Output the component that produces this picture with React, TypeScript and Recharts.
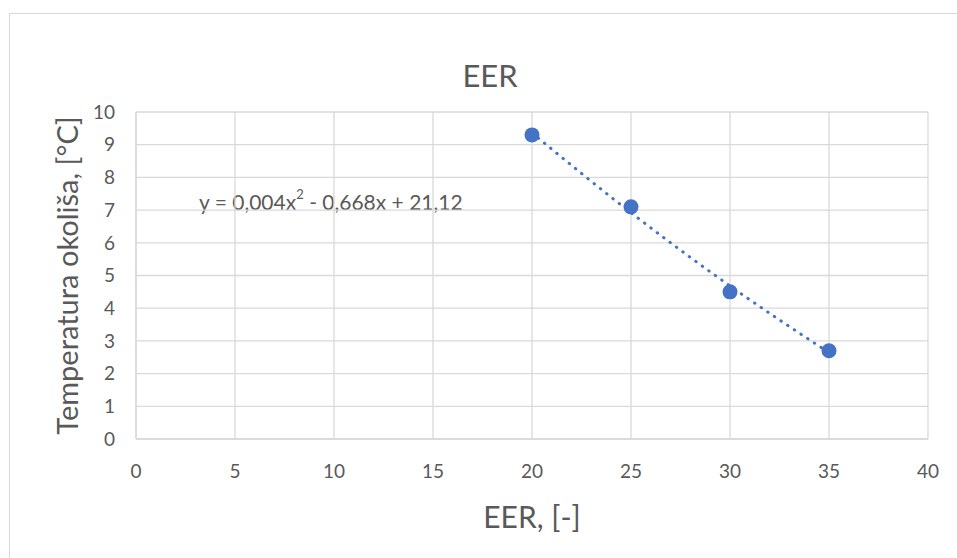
import React from 'react';
import { ComposedChart, Scatter, Line, XAxis, YAxis, CartesianGrid } from 'recharts';

const eer = [20, 25, 30, 35];
const temperature = [9.3, 7.1, 4.5, 2.7];
const trendline = [9.36, 6.92, 4.68, 2.64];
const xTicks = [0, 5, 10, 15, 20, 25, 30, 35, 40];
const yTicks = [0, 1, 2, 3, 4, 5, 6, 7, 8, 9, 10];

const chartTitle = 'EER';
const xTitle = 'EER, [-]';
const yTitle = 'Temperatura okoliša, [°C]';

const FONT = 'Lato, "Open Sans", sans-serif';
const BLUE = '#4472C4';
const GRID = '#d9d9d9';
const TEXT = '#595959';

const data = eer.map((x, i) => ({ x, temp: temperature[i], trend: trendline[i] }));

const App: React.FC = () => {
  return (
    <div style={{ position: 'absolute', left: 0, top: 0, width: 957, height: 558, background: '#fff', fontFamily: FONT, overflow: 'hidden' }}>
      <div style={{ position: 'absolute', left: 9, top: 13, width: 980, height: 580, border: '1px solid #d9d9d9' }} />
      <div style={{ position: 'absolute', left: 390, width: 200, top: 55, textAlign: 'center', fontSize: 31, color: TEXT, lineHeight: '40px' }}>
        {chartTitle}
      </div>
      <div style={{ position: 'absolute', left: 199, top: 188, fontSize: 21, color: TEXT, whiteSpace: 'nowrap', lineHeight: '28px' }}>
        y = 0,004x<sup style={{ fontSize: 13, verticalAlign: 'top', lineHeight: 1 }}>2</sup> - 0,668x + 21,12
      </div>
      <div style={{ position: 'absolute', left: 0, top: 0 }}>
        <ComposedChart width={957} height={558} data={data} margin={{ top: 112, right: 29, left: 76, bottom: 59 }}>
          <CartesianGrid stroke={GRID} strokeWidth={1.3} horizontalValues={yTicks} verticalValues={xTicks} />
          <XAxis
            type="number"
            dataKey="x"
            domain={[0, 40]}
            ticks={xTicks}
            height={60}
            tickLine={false}
            tickSize={0}
            tickMargin={26}
            axisLine={{ stroke: GRID, strokeWidth: 1.3 }}
            tick={{ fill: TEXT, fontSize: 19, fontFamily: FONT }}
            label={{ value: xTitle, position: 'insideBottom', offset: -29, fill: TEXT, fontSize: 30, fontFamily: FONT }}
          />
          <YAxis
            type="number"
            domain={[0, 10]}
            ticks={yTicks}
            width={60}
            tickLine={false}
            tickSize={0}
            tickMargin={21}
            axisLine={{ stroke: GRID, strokeWidth: 1.3 }}
            tick={{ fill: TEXT, fontSize: 19, fontFamily: FONT }}
            label={{ value: yTitle, angle: -90, position: 'insideLeft', offset: -8, fill: TEXT, fontSize: 29, fontFamily: FONT, style: { textAnchor: 'middle' } }}
          />
          <Line
            dataKey="trend"
            type="monotone"
            stroke={BLUE}
            strokeWidth={3}
            strokeDasharray="0.5 7.5"
            strokeLinecap="round"
            dot={false}
            activeDot={false}
            isAnimationActive={false}
          />
          <Scatter
            dataKey="temp"
            fill={BLUE}
            isAnimationActive={false}
            shape={(p: any) => <circle cx={p.cx} cy={p.cy} r={7.5} fill={BLUE} />}
          />
        </ComposedChart>
      </div>
    </div>
  );
};

export default App;
